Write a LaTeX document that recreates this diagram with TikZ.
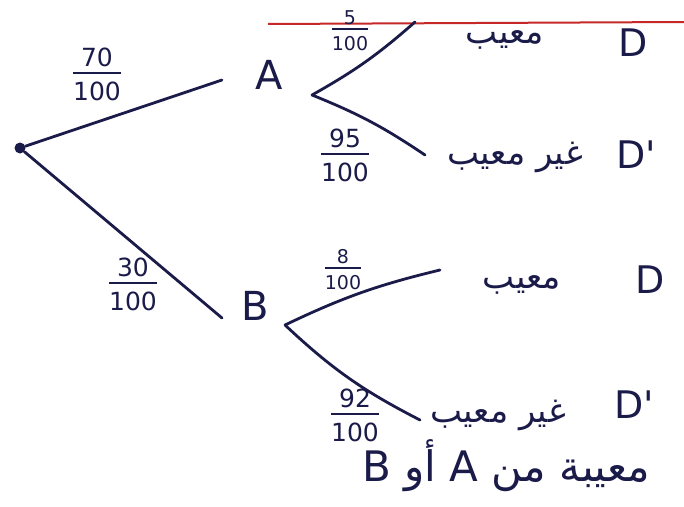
\documentclass[tikz,border=0pt]{standalone}
\usepackage{fontspec}
\setmainfont{DejaVu Sans}
\newfontfamily\plainfont{DejaVu Sans}
\newfontfamily\arabicfont[Script=Arabic]{DejaVu Sans}
\TeXXeTstate=1
\definecolor{ink}{HTML}{1B1B4A}
\definecolor{redink}{HTML}{C62828}
\setlength\arrayrulewidth{2pt}
\newcommand{\frc}[2]{\begin{tabular}{@{}c@{}}#1\\[-2pt]\hline\rule{0pt}{1.05em}#2\end{tabular}}
\tikzset{
  branch/.style={draw=ink, line width=2.8pt, line cap=round},
  lbl/.style={text=ink, inner sep=0pt, font=\plainfont\fontsize{40}{40}\selectfont},
  dlbl/.style={text=ink, inner sep=0pt, font=\plainfont\fontsize{38}{38}\selectfont},
  bigfrac/.style={text=ink, inner sep=0pt, font=\fontsize{25}{27}\selectfont},
  smallfrac/.style={text=ink, inner sep=0pt, font=\fontsize{19}{21}\selectfont},
  ar/.style={text=ink, inner sep=0pt, font=\arabicfont\fontsize{34}{38}\selectfont},
}
\begin{document}
\begin{tikzpicture}[x=1pt,y=-1pt]
\useasboundingbox (0,0) rectangle (684,506);
\fill[white] (0,0) rectangle (684,506);
% red underline at top
\coordinate (r1) at (268,24);
\coordinate (r2) at (684,22);
\draw[redink, line width=2pt] (r1) -- (r2);
% root and events
\node[circle, fill=ink, inner sep=0pt, minimum size=11pt] (root) at (20,148) {};
\node[lbl] (A) at (269,75) {A};
\node[lbl] (B) at (255,306) {B};
\coordinate (a1) at (222,80);
\coordinate (b1) at (222,318);
\coordinate (as) at (312,95);
\coordinate (aD) at (415,22);
\coordinate (aDp) at (425,155);
\coordinate (bs) at (285,325);
\coordinate (bD) at (440,270);
\coordinate (bDp) at (420,420);
\draw[branch] (root) -- (a1);
\draw[branch] (root) -- (b1);
\draw[branch] (as) to[bend right=6] (aD);
\draw[branch] (as) to[bend left=6] (aDp);
\draw[branch] (bs) to[bend left=6] (bD);
\draw[branch] (bs) to[bend right=8] (bDp);
% probabilities
\node[bigfrac] (p70) at (97,78) {\frc{70}{100}};
\node[bigfrac] (p30) at (133,288) {\frc{30}{100}};
\node[smallfrac] (p5) at (350,33) {\frc{5}{100}};
\node[bigfrac] (p95) at (345,159) {\frc{95}{100}};
\node[smallfrac] (p8) at (343,272) {\frc{8}{100}};
\node[bigfrac] (p92) at (355,419) {\frc{92}{100}};
% outcomes
\node[ar] (t1) at (505,40) {\beginR معيب\endR};
\node[dlbl] (d1) at (633,43) {D};
\node[ar] (t2) at (515,157) {\beginR غير معيب\endR};
\node[dlbl] (d2) at (636,155) {D'};
\node[ar] (t3) at (522,285) {\beginR معيب\endR};
\node[dlbl] (d3) at (650,280) {D};
\node[ar] (t4) at (498,415) {\beginR غير معيب\endR};
\node[dlbl] (d4) at (634,405) {D'};
% bottom line
\node[ar, anchor=west, font=\arabicfont\fontsize{42}{44}\selectfont] (bot) at (362,466) {\beginR معيبة من A أو B\endR};
\end{tikzpicture}
\end{document}
